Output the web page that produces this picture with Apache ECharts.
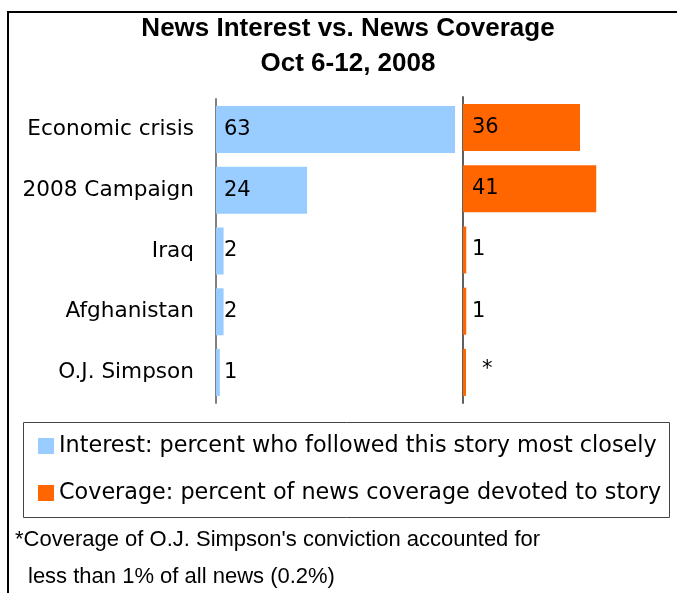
<!DOCTYPE html>
<html>
<head>
<meta charset="utf-8">
<script src="https://cdn.jsdelivr.net/npm/echarts@6/dist/echarts.min.js"></script>
<style>
  html, body { margin: 0; padding: 0; background: #ffffff; }
  #chart { width: 677px; height: 593px; }
</style>
</head>
<body>
<div id="chart"></div>
<script>
// Weekly news index, Oct 6-12, 2008
const categories = ['Economic crisis', '2008 Campaign', 'Iraq', 'Afghanistan', 'O.J. Simpson'];
const interestValues = [63, 24, 2, 2, 1];
const coverageValues = [36, 41, 1, 1, 0.2];
const coverageLabels = ['36', '41', '1', '1', '*'];

const interestName = 'Interest: percent who followed this story most closely';
const coverageName = 'Coverage: percent of news coverage devoted to story';

const titleLines = ['News Interest vs. News Coverage', 'Oct 6-12, 2008'];
const noteLines = ["*Coverage of O.J. Simpson's conviction accounted for", 'less than 1% of all news (0.2%)'];

const BLUE = '#99CCFF';
const ORANGE = '#FF6600';
const LABEL_FONT = 'DejaVu Sans';

const chart = echarts.init(document.getElementById('chart'), null, { renderer: 'canvas' });

const valueAxisBase = {
  type: 'value',
  min: 0,
  show: false,
  splitLine: { show: false }
};

const coverageData = coverageValues.map((v, i) =>
  coverageLabels[i] === '*'
    ? { value: v, label: { offset: [10, -3] } }
    : v
);

const option = {
  animation: false,
  backgroundColor: '#ffffff',
  grid: [
    { left: 216, top: 99, width: 265.6, height: 304 },
    { left: 463, top: 97, width: 195, height: 306 }
  ],
  xAxis: [
    Object.assign({ gridIndex: 0, max: 70 }, valueAxisBase),
    Object.assign({ gridIndex: 1, max: 60 }, valueAxisBase)
  ],
  yAxis: [
    {
      type: 'category',
      gridIndex: 0,
      data: categories,
      inverse: true,
      axisLine: { show: true, lineStyle: { color: '#808080', width: 2 } },
      axisTick: { show: false },
      axisLabel: {
        margin: 22,
        color: '#000000',
        fontFamily: LABEL_FONT,
        fontSize: 21.6
      }
    },
    {
      type: 'category',
      gridIndex: 1,
      data: categories,
      inverse: true,
      axisLine: { show: true, lineStyle: { color: '#606060', width: 2 } },
      axisTick: { show: false },
      axisLabel: { show: false }
    }
  ],
  legend: {
    orient: 'vertical',
    left: 38,
    top: 435,
    padding: 0,
    itemGap: 25,
    itemWidth: 16,
    itemHeight: 16,
    icon: 'rect',
    selectedMode: false,
    data: [interestName, coverageName],
    textStyle: {
      color: '#000000',
      fontFamily: LABEL_FONT,
      fontSize: 22.3,
      lineHeight: 22
    }
  },
  graphic: [
    {
      // outer frame (left and top edges)
      type: 'polyline',
      silent: true,
      shape: { points: [[8, 600], [8, 12], [690, 12]] },
      style: { stroke: '#000000', lineWidth: 2, fill: null }
    },
    {
      // legend box
      type: 'rect',
      silent: true,
      shape: { x: 23.5, y: 422.5, width: 646, height: 95 },
      style: { stroke: '#444444', lineWidth: 1, fill: null }
    },
    {
      type: 'text',
      x: 348, y: 29,
      style: {
        text: titleLines[0],
        fill: '#000000',
        font: 'bold 26px "Liberation Sans", Arial, sans-serif',
        textAlign: 'center',
        textVerticalAlign: 'middle'
      }
    },
    {
      type: 'text',
      x: 348, y: 64,
      style: {
        text: titleLines[1],
        fill: '#000000',
        font: 'bold 26px "Liberation Sans", Arial, sans-serif',
        textAlign: 'center',
        textVerticalAlign: 'middle'
      }
    },
    {
      type: 'text',
      x: 15, y: 540,
      style: {
        text: noteLines[0],
        fill: '#000000',
        font: '22px "Liberation Sans", Arial, sans-serif',
        textAlign: 'left',
        textVerticalAlign: 'middle'
      }
    },
    {
      type: 'text',
      x: 28, y: 577,
      style: {
        text: noteLines[1],
        fill: '#000000',
        font: '22px "Liberation Sans", Arial, sans-serif',
        textAlign: 'left',
        textVerticalAlign: 'middle'
      }
    }
  ],
  series: [
    {
      name: interestName,
      type: 'bar',
      xAxisIndex: 0,
      yAxisIndex: 0,
      data: interestValues,
      barWidth: 47,
      itemStyle: { color: BLUE },
      label: {
        show: true,
        position: 'insideLeft',
        distance: 8,
        color: '#000000',
        fontFamily: LABEL_FONT,
        fontSize: 21
      }
    },
    {
      name: coverageName,
      type: 'bar',
      xAxisIndex: 1,
      yAxisIndex: 1,
      data: coverageData,
      barWidth: 47,
      barMinHeight: 3,
      itemStyle: { color: ORANGE },
      label: {
        show: true,
        position: 'insideLeft',
        distance: 9,
        color: '#000000',
        fontFamily: LABEL_FONT,
        fontSize: 21,
        formatter: (p) => coverageLabels[p.dataIndex]
      }
    }
  ]
};

chart.setOption(option);
</script>
</body>
</html>
